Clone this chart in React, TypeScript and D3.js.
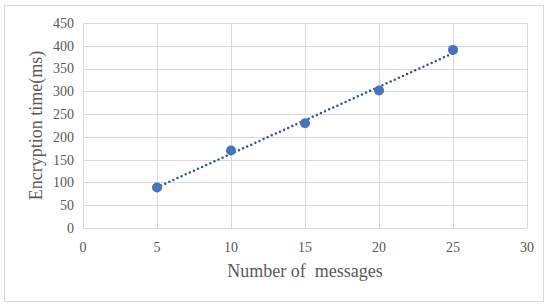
import * as d3 from "d3";

const messages = [5, 10, 15, 20, 25];
const encTime = [89, 170, 230, 302, 391];
const xTicks = [0, 5, 10, 15, 20, 25, 30];
const yTicks = [0, 50, 100, 150, 200, 250, 300, 350, 400, 450];

const W = 550;
const H = 307;
const font = "'Liberation Serif', 'Times New Roman', serif";

export default function App() {
  const x = d3.scaleLinear().domain([0, 30]).range([83, 527]);
  const y = d3.scaleLinear().domain([0, 450]).range([228, 23]);

  // linear trendline like Excel's
  const mx = d3.mean(messages)!;
  const my = d3.mean(encTime)!;
  const slope =
    d3.sum(messages, (d, i) => (d - mx) * (encTime[i] - my)) /
    d3.sum(messages, (d) => (d - mx) ** 2);
  const fit = (v: number) => my + slope * (v - mx);
  const x0 = messages[0];
  const x1 = messages[messages.length - 1];
  const trend = d3.line<number>()
    .x((d) => x(d))
    .y((d) => y(fit(d)))([x0, x1]);

  return (
    <svg
      width={W}
      height={H}
      style={{ position: "absolute", left: 0, top: 0, background: "#fff" }}
      fontFamily={font}
    >
      <rect x={4.5} y={5.5} width={539} height={296} fill="#fff" stroke="#d9d9d9" />
      <g stroke="#d9d9d9" strokeWidth={1}>
        {yTicks.map((t) => (
          <line key={"y" + t} x1={x(0)} x2={x(30)} y1={Math.round(y(t)) + 0.5} y2={Math.round(y(t)) + 0.5} />
        ))}
        {xTicks.map((t) => (
          <line key={"x" + t} x1={Math.round(x(t)) + 0.5} x2={Math.round(x(t)) + 0.5} y1={y(0)} y2={y(450)} />
        ))}
      </g>
      <g fill="#595959" fontSize={14}>
        {yTicks.map((t) => (
          <text key={"yl" + t} x={74} y={y(t)} dy="0.35em" textAnchor="end">
            {t}
          </text>
        ))}
        {xTicks.map((t) => (
          <text key={"xl" + t} x={x(t)} y={252} textAnchor="middle">
            {t}
          </text>
        ))}
      </g>
      <path
        d={trend ?? ""}
        fill="none"
        stroke="#2f5597"
        strokeWidth={2.5}
        strokeDasharray="0 4.5"
        strokeLinecap="round"
      />
      <g fill="#4472c4">
        {messages.map((m, i) => (
          <circle key={m} cx={x(m)} cy={y(encTime[i])} r={5} />
        ))}
      </g>
      <text x={305} y={277} textAnchor="middle" fontSize={18} fill="#595959">
        Number of{"\u00a0\u00a0"}messages
      </text>
      <text
        transform={`translate(42,${(y(0) + y(450)) / 2}) rotate(-90)`}
        textAnchor="middle"
        fontSize={18}
        fill="#595959"
      >
        Encryption time(ms)
      </text>
    </svg>
  );
}
